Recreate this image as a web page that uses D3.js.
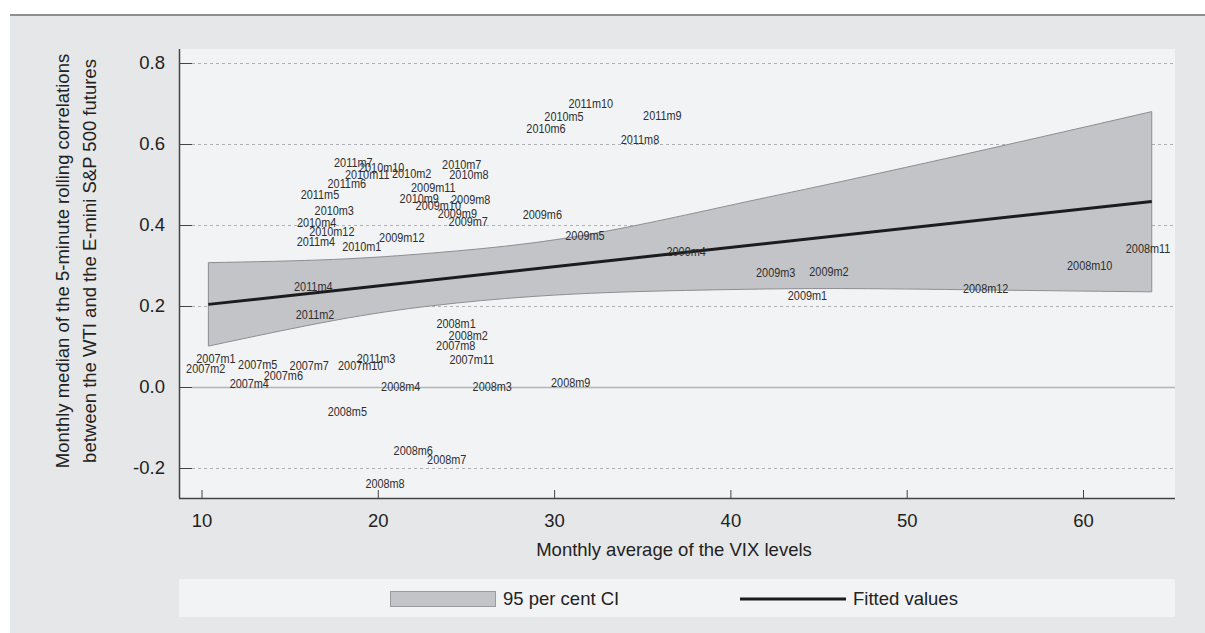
<!DOCTYPE html>
<html>
<head>
<meta charset="utf-8">
<script src="https://cdn.jsdelivr.net/npm/d3@7"></script>
<style>
  html, body { margin: 0; padding: 0; background: #ffffff; }
  svg { display: block; }
</style>
</head>
<body>
<svg id="chart" width="1205" height="633"></svg>
<script>
// ---- Data ----
const labels = ["2007m1","2007m2","2007m4","2007m5","2007m6","2007m7","2007m8","2007m10","2007m11",
  "2008m1","2008m2","2008m3","2008m4","2008m5","2008m6","2008m7","2008m8","2008m9","2008m10","2008m11","2008m12",
  "2009m1","2009m2","2009m3","2009m4","2009m5","2009m6","2009m7","2009m8","2009m9","2009m10","2009m11","2009m12",
  "2010m1","2010m2","2010m3","2010m4","2010m5","2010m6","2010m7","2010m8","2010m9","2010m10","2010m11","2010m12",
  "2011m2","2011m3","2011m4","2011m4","2011m5","2011m6","2011m7","2011m8","2011m9","2011m10"];
const vix = [10.82,10.24,12.71,13.19,14.64,16.11,24.42,19.03,25.33,
  24.44,25.13,26.49,21.30,18.27,22.01,23.91,20.41,30.94,60.38,63.69,54.48,
  44.37,45.59,42.57,37.49,31.75,29.33,25.13,25.27,24.51,23.43,23.15,21.36,
  19.09,21.92,17.53,16.53,30.56,29.54,24.76,25.17,22.35,20.22,19.40,17.39,
  16.44,19.90,16.49,16.34,16.72,18.24,18.61,34.87,36.14,32.08];
const corr = [0.071,0.046,0.009,0.056,0.030,0.054,0.104,0.054,0.069,
  0.157,0.129,0.001,0.001,-0.059,-0.157,-0.178,-0.237,0.012,0.300,0.343,0.243,
  0.226,0.287,0.284,0.335,0.375,0.427,0.410,0.465,0.430,0.449,0.493,0.371,
  0.349,0.528,0.437,0.408,0.669,0.640,0.550,0.526,0.467,0.542,0.526,0.384,
  0.180,0.072,0.360,0.249,0.476,0.504,0.555,0.613,0.672,0.700];

const ciVix   = [10.39, 17.48, 23.15, 28.63, 34.31, 40.55, 46.78, 55.67, 63.90];
const ciLower = [0.101, 0.164, 0.201, 0.223, 0.235, 0.241, 0.243, 0.239, 0.235];
const ciUpper = [0.307, 0.315, 0.331, 0.355, 0.396, 0.454, 0.512, 0.598, 0.680];

const fitVix = [10.39, 63.90];
const fitVal = [0.204, 0.458];

const xTicks = [10, 20, 30, 40, 50, 60];
const yTicks = [-0.2, 0.0, 0.2, 0.4, 0.6, 0.8];
const yTickLabels = ["-0.2", "0.0", "0.2", "0.4", "0.6", "0.8"];

const xTitle = "Monthly average of the VIX levels";
const yTitle = ["Monthly median of the 5-minute rolling correlations",
                "between the WTI and the E-mini S&P 500 futures"];
const legendItems = ["95 per cent CI", "Fitted values"];

// ---- Layout ----
const svg = d3.select("#chart");
const W = 1205, H = 633;
const plotL = 179, plotR = 1175, plotT = 49, plotB = 498;
const FONT = "'Liberation Sans', Arial, Helvetica, sans-serif";

const x = d3.scaleLinear().domain([10, 60]).range([201.5, 1083]);
const y = d3.scaleLinear().domain([0, 0.8]).range([387, 63]);

// outer background
svg.append("rect").attr("x", 10).attr("y", 15).attr("width", W - 10).attr("height", H - 15).attr("fill", "#e6e7e8");
svg.append("line").attr("x1", 10).attr("x2", W).attr("y1", 15).attr("y2", 15)
  .attr("stroke", "#8f8f8f").attr("stroke-width", 2);

// plot region
svg.append("rect").attr("x", plotL).attr("y", plotT).attr("width", plotR - plotL).attr("height", plotB - plotT)
  .attr("fill", "#f2f3f5");

// gridlines
const grid = svg.append("g");
yTicks.forEach(t => {
  const yy = Math.round(y(t)) + 0.5;
  grid.append("line").attr("x1", plotL + 13).attr("x2", plotR).attr("y1", yy).attr("y2", yy)
    .attr("stroke", t === 0 ? "#b4b5b8" : "#aeafb2")
    .attr("stroke-width", t === 0 ? 1.5 : 1)
    .attr("stroke-dasharray", t === 0 ? null : "3,3");
});

// CI band
const ciData = ciVix.map((v, i) => ({ v, lo: ciLower[i], hi: ciUpper[i] }));
const curve = d3.curveNatural;
const area = d3.area().x(d => x(d.v)).y0(d => y(d.lo)).y1(d => y(d.hi)).curve(curve);
svg.append("path").datum(ciData).attr("d", area).attr("fill", "#c3c4c8");
const upperLine = d3.line().x(d => x(d.v)).y(d => y(d.hi)).curve(curve);
const lowerLine = d3.line().x(d => x(d.v)).y(d => y(d.lo)).curve(curve);
svg.append("path").datum(ciData).attr("d", upperLine).attr("fill", "none").attr("stroke", "#8d8e91").attr("stroke-width", 1);
svg.append("path").datum(ciData).attr("d", lowerLine).attr("fill", "none").attr("stroke", "#8d8e91").attr("stroke-width", 1);
[0, ciData.length - 1].forEach(i => {
  svg.append("line").attr("x1", x(ciData[i].v)).attr("x2", x(ciData[i].v))
    .attr("y1", y(ciData[i].lo)).attr("y2", y(ciData[i].hi))
    .attr("stroke", "#8d8e91").attr("stroke-width", 1);
});

// fitted line
const fitData = fitVix.map((v, i) => ({ v, f: fitVal[i] }));
svg.append("path").datum(fitData)
  .attr("d", d3.line().x(d => x(d.v)).y(d => y(d.f)))
  .attr("fill", "none").attr("stroke", "#1c1b1d").attr("stroke-width", 3);

// axes
const xAxis = d3.axisBottom(x).tickValues(xTicks).tickSize(-8).tickPadding(10).tickFormat(d3.format("d"));
const gx = svg.append("g").attr("transform", `translate(0,${plotB})`).call(xAxis);
gx.select(".domain").attr("d", `M${plotL},0.5H${plotR}`).attr("stroke", "#444").attr("stroke-width", 1.5);
gx.selectAll(".tick line").attr("stroke", "#444");
gx.selectAll(".tick text").attr("font-family", FONT).attr("font-size", "18.5px").attr("fill", "#222")
  .attr("dy", "1.05em");

const yAxis = d3.axisLeft(y).tickValues(yTicks).tickSize(-13).tickPadding(14)
  .tickFormat((d, i) => yTickLabels[i]);
const gy = svg.append("g").attr("transform", `translate(${plotL},0)`).call(yAxis);
gy.select(".domain").attr("d", `M0.5,${plotT}V${plotB}`).attr("stroke", "#444").attr("stroke-width", 1.5);
gy.selectAll(".tick line").attr("stroke", "#444");
gy.selectAll(".tick text").attr("font-family", FONT).attr("font-size", "18.5px").attr("fill", "#222");

// data labels (condensed by horizontal scaling)
svg.append("g").selectAll("text").data(labels).join("text")
  .attr("transform", (d, i) => `translate(${x(vix[i])},${y(corr[i])}) scale(0.8,1)`)
  .attr("dy", "0.36em")
  .attr("text-anchor", "middle")
  .attr("font-family", FONT)
  .attr("font-size", "13.6px")
  .attr("fill", "#2e2e2e")
  .text(d => d);

// axis titles
svg.append("text").attr("x", 674).attr("y", 550).attr("dy", "0.35em").attr("text-anchor", "middle")
  .attr("font-family", FONT).attr("font-size", "18.5px").attr("fill", "#222").text(xTitle);

const yt = svg.append("g").attr("transform", "translate(0,261) rotate(-90)");
yTitle.forEach((t, i) => {
  yt.append("text").attr("x", 0).attr("y", 63 + i * 26.5).attr("dy", "0.35em").attr("text-anchor", "middle")
    .attr("font-family", FONT).attr("font-size", "18.5px").attr("fill", "#222").text(t);
});

// legend
svg.append("rect").attr("x", plotL).attr("y", 579).attr("width", plotR - plotL).attr("height", 38).attr("fill", "#f2f3f5");
svg.append("rect").attr("x", 390.5).attr("y", 591.5).attr("width", 105).attr("height", 15)
  .attr("fill", "#c3c4c8").attr("stroke", "#9a9b9e").attr("stroke-width", 1);
svg.append("text").attr("x", 503).attr("y", 599).attr("dy", "0.35em")
  .attr("font-family", FONT).attr("font-size", "18.5px").attr("fill", "#222").text(legendItems[0]);
svg.append("line").attr("x1", 740).attr("x2", 846).attr("y1", 599).attr("y2", 599)
  .attr("stroke", "#1c1b1d").attr("stroke-width", 3);
svg.append("text").attr("x", 853).attr("y", 599).attr("dy", "0.35em")
  .attr("font-family", FONT).attr("font-size", "18.5px").attr("fill", "#222").text(legendItems[1]);
</script>
</body>
</html>
